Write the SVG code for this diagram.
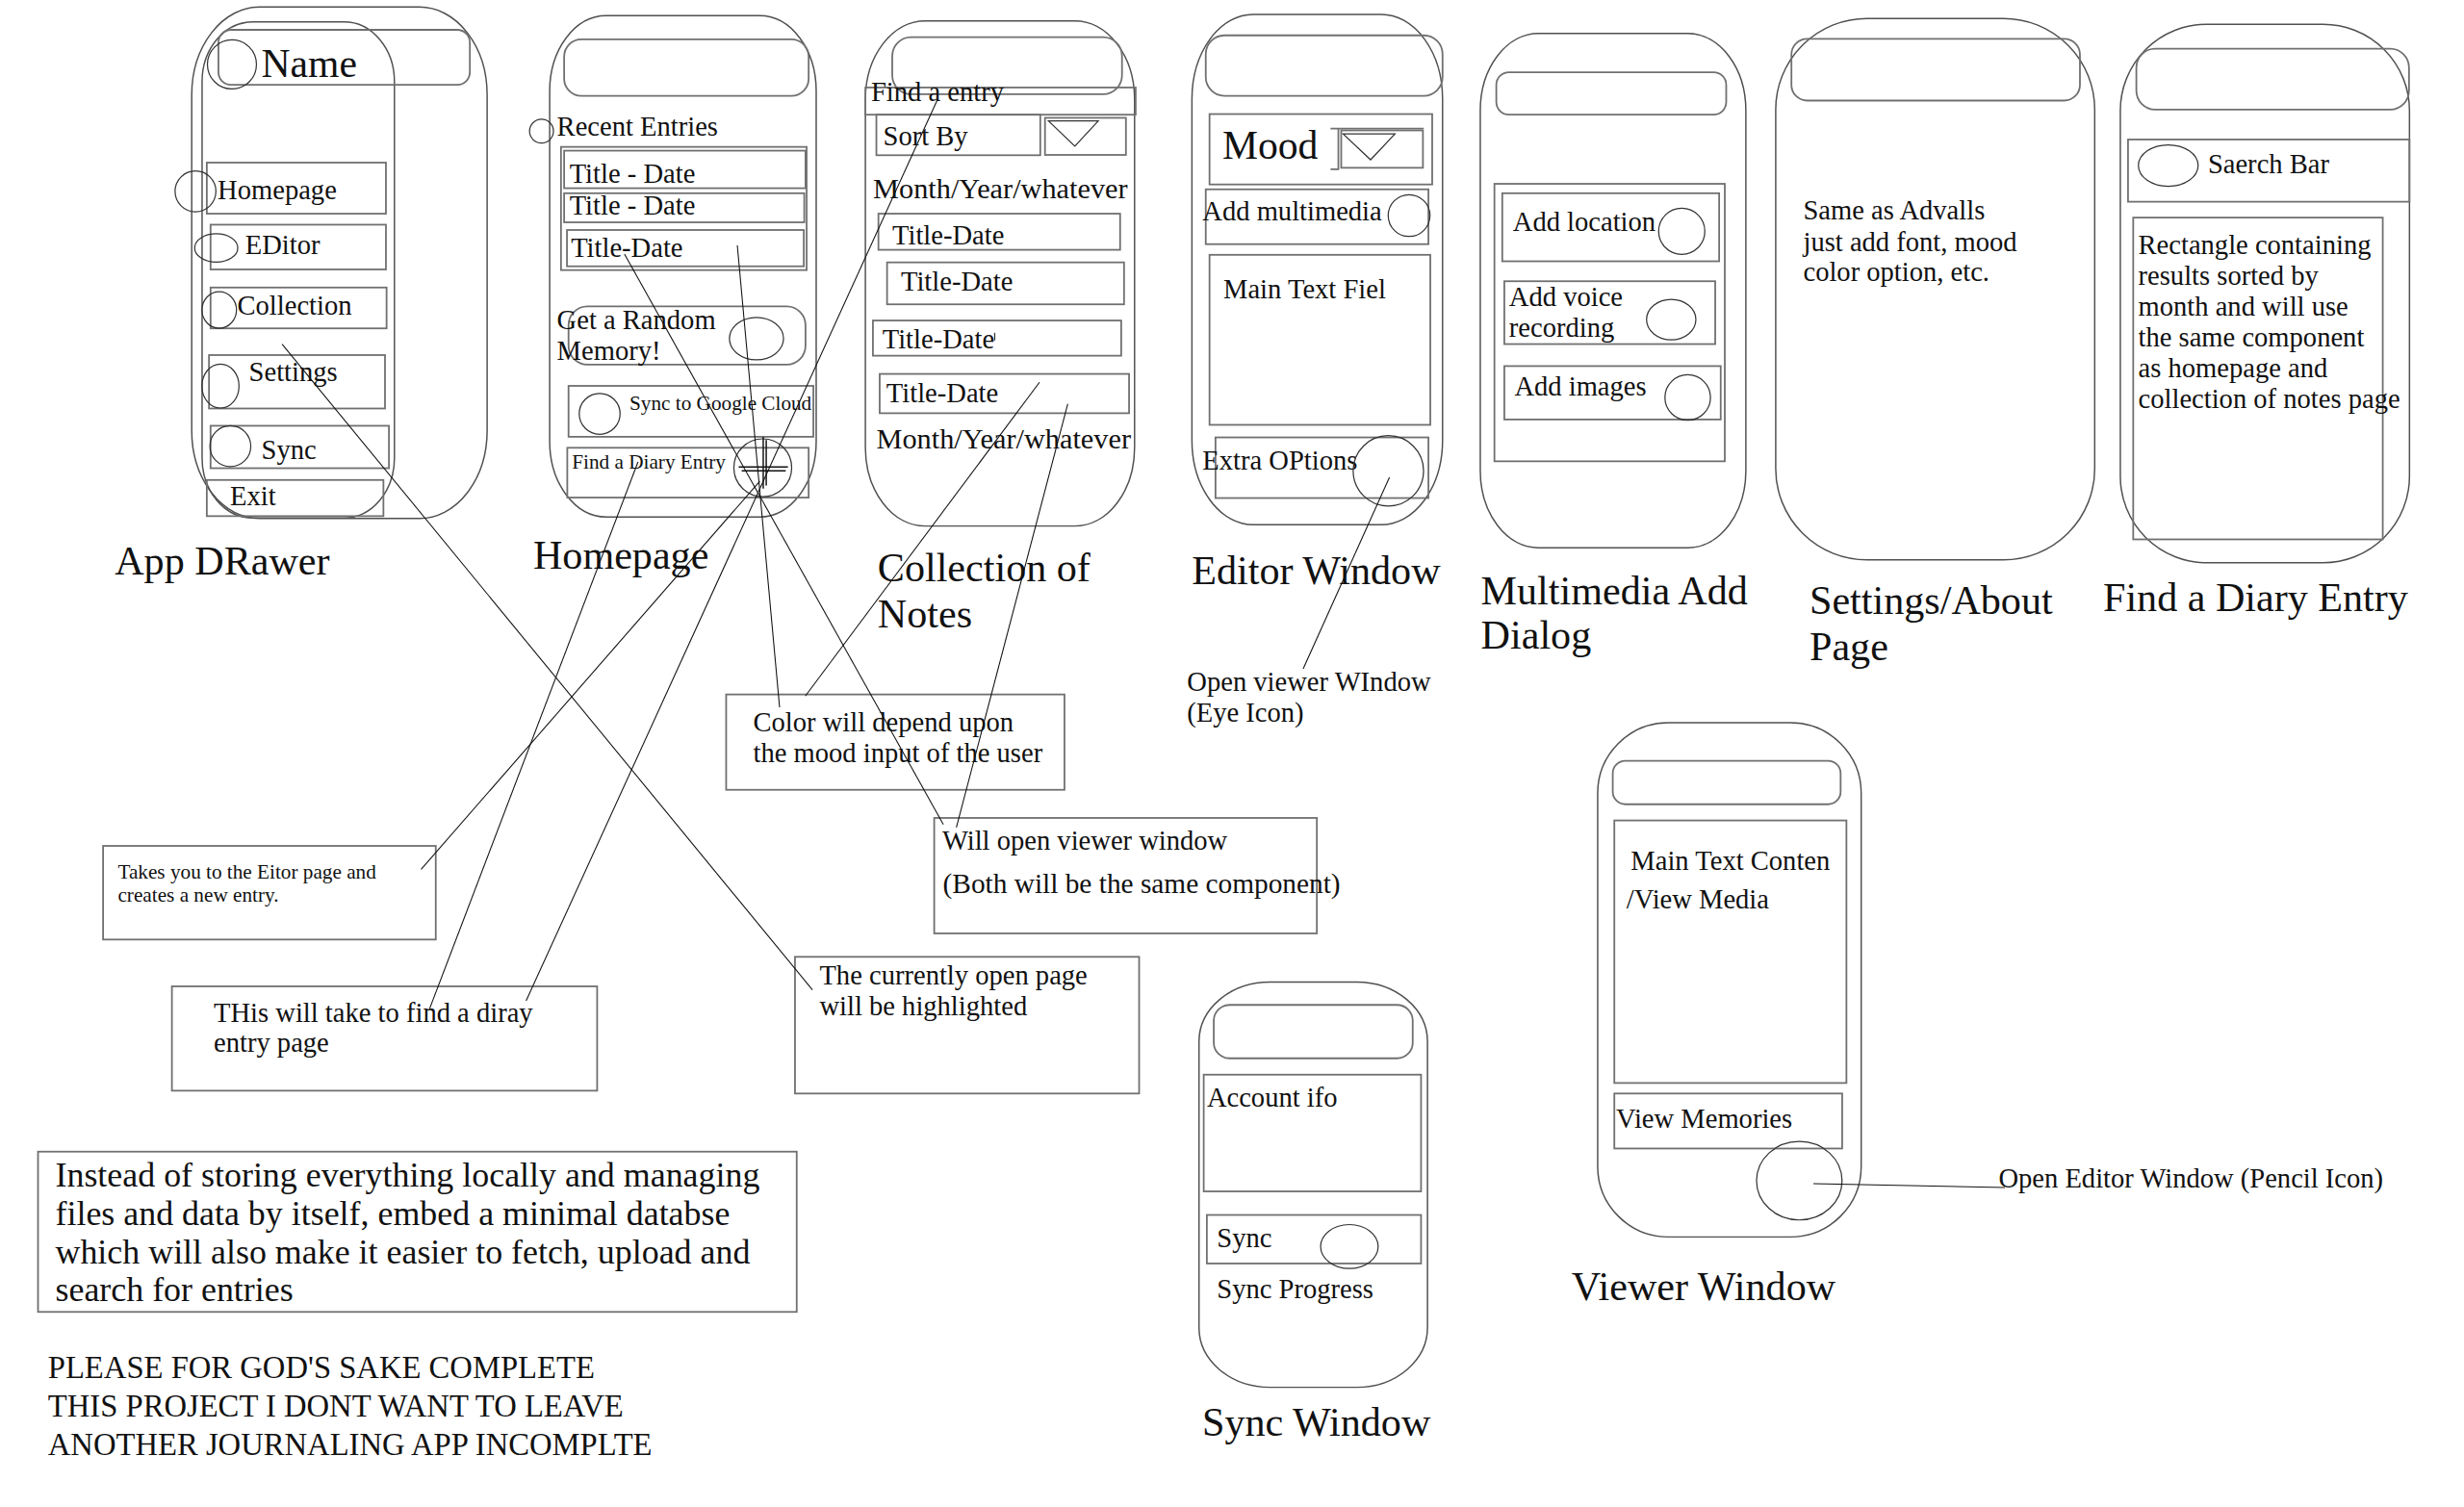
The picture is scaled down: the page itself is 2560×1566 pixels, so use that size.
<svg xmlns="http://www.w3.org/2000/svg" width="2560" height="1566" viewBox="0 0 2560 1566">
<style>
.ph{fill:none;stroke:#505050;stroke-width:0.9}
.bx{fill:none;stroke:#707070;stroke-width:1.1}
.ci{fill:none;stroke:#333;stroke-width:0.75}
.cn{fill:none;stroke:#111;stroke-width:0.65}
text{font-family:"Liberation Serif","DejaVu Serif",serif;fill:#111}
.s13{font-size:13px}
.s17{font-size:17.5px}
.s20{font-size:20px}
.s22{font-size:22px}
.s25{font-size:25.5px}
.tt{font-size:25.8px}
</style>
<rect x="0" y="0" width="2560" height="1566" fill="#fff"/>
<g transform="scale(1.632653)">
<g id="app-drawer">
<rect class="ph" x="122" y="4.5" width="188" height="325.5" rx="43" ry="56"/>
<rect class="ph" x="128.6" y="14" width="122.4" height="315.6" rx="32" ry="38"/>
<rect class="bx" x="139" y="19" width="160" height="35" rx="8"/>
<circle class="ci" cx="147.6" cy="41" r="15.6"/>
<text class="s25" x="166.3" y="49">Name</text>
<rect class="bx" x="131.6" y="103.5" width="114" height="32.5"/>
<circle class="ci" cx="124.4" cy="121.8" r="13"/>
<text class="s17" x="138.5" y="127">Homepage</text>
<rect class="bx" x="134" y="143" width="111.6" height="28.5"/>
<ellipse class="ci" cx="137.6" cy="157.8" rx="13.7" ry="9"/>
<text class="s17" x="156" y="162">EDitor</text>
<rect class="bx" x="134" y="183" width="112" height="26"/>
<ellipse class="ci" cx="139.5" cy="197.3" rx="11" ry="11.6"/>
<text class="s17" x="151" y="200">Collection</text>
<rect class="bx" x="133" y="226" width="112" height="34"/>
<ellipse class="ci" cx="140.3" cy="245.7" rx="11.8" ry="14"/>
<text class="s17" x="158.4" y="242.7">Settings</text>
<rect class="bx" x="134" y="271" width="113.5" height="27"/>
<circle class="ci" cx="146.6" cy="284" r="13"/>
<text class="s17" x="166.3" y="292">Sync</text>
<rect class="bx" x="131.6" y="305.5" width="112.4" height="23"/>
<text class="s17" x="146.4" y="321.5">Exit</text>
<text class="tt" x="73" y="365.6">App DRawer</text>
</g>
<g id="homepage">
<rect class="ph" x="349.8" y="10" width="169.6" height="319" rx="36" ry="48"/>
<rect class="bx" x="359" y="25" width="155.6" height="36" rx="11"/>
<circle class="ci" cx="344.6" cy="83.5" r="7.6"/>
<text class="s17" x="354.4" y="86.4">Recent Entries</text>
<rect class="bx" x="357" y="93.5" width="156.3" height="78.4"/>
<rect class="bx" x="359" y="95.9" width="153.6" height="23.9"/>
<text class="s17" x="362.4" y="116.2">Title - Date</text>
<rect class="bx" x="359" y="123" width="152.8" height="18.5"/>
<text class="s17" x="362.4" y="136.6">Title - Date</text>
<rect class="bx" x="360.8" y="146.4" width="150.7" height="23.1"/>
<text class="s17" x="363.3" y="163.4">Title-Date</text>
<rect class="bx" x="361.8" y="195" width="150.8" height="37" rx="12"/>
<text class="s17" x="354.4" y="209.4">Get a Random</text>
<text class="s17" x="354.4" y="228.8">Memory!</text>
<ellipse class="ci" cx="481.4" cy="215.5" rx="17.2" ry="13.5"/>
<rect class="bx" x="361.8" y="245.6" width="155.8" height="32.4"/>
<circle class="ci" cx="381.6" cy="263.4" r="13"/>
<text class="s13" x="400.6" y="261">Sync to Google Cloud</text>
<rect class="bx" x="361" y="285" width="153.6" height="31.7"/>
<text class="s13" x="364" y="298.3">Find a Diary Entry</text>
<circle class="ci" cx="485.4" cy="297.7" r="18.4"/>
<path fill="none" stroke="#111" stroke-width="0.9" d="M485.7,278V311M487.6,280V309M470.1,297.2H501.4M472,299.7H500"/>
<text class="tt" x="339.3" y="362">Homepage</text>
</g>
<g id="collection">
<rect class="ph" x="550.7" y="13.3" width="171.3" height="321.5" rx="38" ry="50"/>
<rect class="bx" x="567.8" y="23.7" width="146.2" height="36.3" rx="12"/>
<rect class="bx" x="550.7" y="55.7" width="172" height="17.3"/>
<text class="s17" x="554.3" y="64.2">Find a entry</text>
<rect class="bx" x="557.7" y="73" width="104.3" height="25.8"/>
<text class="s17" x="562" y="92.7">Sort By</text>
<rect class="bx" x="665" y="75" width="51.5" height="23.6"/>
<polygon class="ci" points="667.2,77 698.9,77 684,93.1"/>
<text class="s17" x="555.6" y="126.3" textLength="162" lengthAdjust="spacingAndGlyphs">Month/Year/whatever</text>
<rect class="bx" x="559" y="136" width="153.8" height="23"/>
<text class="s17" x="567.8" y="155.6">Title-Date</text>
<rect class="bx" x="564.5" y="167" width="150.8" height="26.7"/>
<text class="s17" x="573.3" y="185.2">Title-Date</text>
<rect class="bx" x="555.5" y="204" width="158" height="22.4"/>
<text class="s17" x="561.5" y="222">Title-Date</text>
<path class="ci" d="M633,211.8V216.7"/>
<rect class="bx" x="559.8" y="238" width="158.7" height="25"/>
<text class="s17" x="564" y="256">Title-Date</text>
<text class="s17" x="557.7" y="285.2" textLength="162" lengthAdjust="spacingAndGlyphs">Month/Year/whatever</text>
<text class="tt" x="558.5" y="370">Collection of</text>
<text class="tt" x="558.5" y="399.5">Notes</text>
</g>
<g id="editor">
<rect class="ph" x="758.5" y="9.2" width="159.5" height="324.8" rx="39" ry="54"/>
<rect class="bx" x="767.3" y="22.5" width="150.7" height="38.5" rx="12"/>
<rect class="bx" x="769.7" y="72.6" width="141.7" height="44.8"/>
<text class="s25" x="777.8" y="101">Mood</text>
<path class="bx" d="M846.7,81.8H906M851.7,81.8V107.7H846.7"/>
<rect class="bx" x="853.5" y="83" width="52" height="23.8"/>
<polygon class="ci" points="854.7,85.2 887.7,85.2 872.2,101.7"/>
<rect class="bx" x="767.3" y="120.5" width="141.7" height="34.9"/>
<text class="s17" x="765.2" y="140">Add multimedia</text>
<circle class="ci" cx="896.7" cy="137.2" r="13.3"/>
<rect class="bx" x="769.7" y="162.2" width="140.5" height="108.2"/>
<text class="s17" x="778.5" y="190">Main Text Fiel</text>
<rect class="bx" x="773.5" y="278.4" width="135.5" height="38.6"/>
<text class="s17" x="765.2" y="299">Extra OPtions</text>
<circle class="ci" cx="883.5" cy="299.7" r="22.4"/>
<text class="tt" x="758.4" y="371.6">Editor Window</text>
</g>
<g id="multimedia">
<rect class="ph" x="942" y="21.3" width="169" height="327.3" rx="37" ry="49"/>
<rect class="bx" x="952.2" y="46" width="146.3" height="27" rx="8"/>
<rect class="bx" x="951" y="117" width="146.6" height="176.6"/>
<rect class="bx" x="956" y="123" width="138" height="43.3"/>
<text class="s17" x="962.7" y="147.2">Add location</text>
<circle class="ci" cx="1070.2" cy="147.2" r="14.7"/>
<rect class="bx" x="957.3" y="179" width="134.2" height="40"/>
<text class="s17" x="960.3" y="194.9">Add voice</text>
<text class="s17" x="960.3" y="214.3">recording</text>
<ellipse class="ci" cx="1063.5" cy="203.4" rx="15.7" ry="12.9"/>
<rect class="bx" x="957.3" y="233" width="137.7" height="34"/>
<text class="s17" x="963.7" y="251.8">Add images</text>
<circle class="ci" cx="1074" cy="253" r="14.5"/>
<text class="tt" x="942.4" y="384.8">Multimedia Add</text>
<text class="tt" x="942.4" y="413">Dialog</text>
</g>
<g id="settings">
<rect class="ph" x="1130" y="11.8" width="203" height="344.5" rx="58" ry="58"/>
<rect class="bx" x="1140" y="24.7" width="183.6" height="39.3" rx="10"/>
<text class="s17" x="1147.5" y="139.6">Same as Advalls</text>
<text class="s17" x="1147.5" y="159.6">just add font, mood</text>
<text class="s17" x="1147.5" y="178.7">color option, etc.</text>
<text class="tt" x="1151.5" y="390.5">Settings/About</text>
<text class="tt" x="1151.5" y="420">Page</text>
</g>
<g id="find-entry">
<rect class="ph" x="1349.3" y="15.4" width="184" height="342.8" rx="55" ry="55"/>
<rect class="bx" x="1359.5" y="31" width="173.5" height="38.7" rx="12"/>
<rect class="bx" x="1354.2" y="88.8" width="179.1" height="39.6"/>
<ellipse class="ci" cx="1379.8" cy="105.4" rx="19" ry="13.2"/>
<text class="s17" x="1405" y="110.4">Saerch Bar</text>
<rect class="bx" x="1357.5" y="138.5" width="158.8" height="204.8"/>
<text class="s17" x="1360.7" y="161.5">Rectangle containing</text>
<text class="s17" x="1360.7" y="181.2">results sorted by</text>
<text class="s17" x="1360.7" y="200.9">month and will use</text>
<text class="s17" x="1360.7" y="220.5">the same component</text>
<text class="s17" x="1360.7" y="240.2">as homepage and</text>
<text class="s17" x="1360.7" y="259.9">collection of notes page</text>
<text class="tt" x="1338.3" y="389">Find a Diary Entry</text>
</g>
<g id="viewer">
<rect class="ph" x="1016.7" y="460" width="167.7" height="327.3" rx="45" ry="45"/>
<rect class="bx" x="1026.3" y="484.2" width="145" height="27.7" rx="8"/>
<rect class="bx" x="1027.3" y="522.2" width="147.7" height="167.1"/>
<text class="s17" x="1037.8" y="553.7">Main Text Conten</text>
<text class="s17" x="1035" y="578">/View Media</text>
<rect class="bx" x="1027.3" y="696" width="145" height="35"/>
<text class="s17" x="1028.4" y="717.8">View Memories</text>
<ellipse class="ci" cx="1145" cy="751.5" rx="27.2" ry="25"/>
<text class="tt" x="1000" y="827.3">Viewer Window</text>
</g>
<g id="sync-window">
<rect class="ph" x="763" y="625" width="145.4" height="258" rx="45" ry="38"/>
<rect class="bx" x="772.4" y="639.6" width="126.6" height="34" rx="10"/>
<rect class="bx" x="766" y="684" width="138.3" height="74.3"/>
<text class="s17" x="768" y="704.5">Account ifo</text>
<rect class="bx" x="768" y="773.3" width="136.3" height="30.9"/>
<text class="s17" x="774.4" y="794">Sync</text>
<ellipse class="ci" cx="858.7" cy="793.4" rx="18.3" ry="14"/>
<text class="s17" x="774.4" y="826">Sync Progress</text>
<text class="tt" x="765" y="914">Sync Window</text>
</g>
<g id="note-color">
<rect class="bx" x="462.1" y="442" width="215.3" height="60.7"/>
<text class="s17" x="479.3" y="465.5">Color will depend upon</text>
<text class="s17" x="479.3" y="484.9">the mood input of the user</text>
</g>
<g id="note-editor">
<rect class="bx" x="65.6" y="538.4" width="211.7" height="59.6"/>
<text class="s13" x="75" y="559.4">Takes you to the Eitor page and</text>
<text class="s13" x="75" y="573.7">creates a new entry.</text>
</g>
<g id="note-find">
<rect class="bx" x="109.4" y="627.8" width="270.6" height="66.4"/>
<text class="s17" x="136" y="650.3">THis will take to find a diray</text>
<text class="s17" x="136" y="669.6">entry page</text>
</g>
<g id="note-highlight">
<rect class="bx" x="505.9" y="609" width="219" height="87"/>
<text class="s17" x="521.5" y="626.8">The currently open page</text>
<text class="s17" x="521.5" y="646.2">will be highlighted</text>
</g>
<g id="note-viewer">
<rect class="bx" x="594.5" y="520.6" width="243.5" height="73.5"/>
<text class="s17" x="599.6" y="541">Will open viewer window</text>
<text class="s17" x="600" y="568.6" textLength="253" lengthAdjust="spacingAndGlyphs">(Both will be the same component)</text>
</g>
<g id="note-eye">
<text class="s17" x="755.4" y="440">Open viewer WIndow</text>
<text class="s17" x="755.4" y="459.4">(Eye Icon)</text>
</g>
<g id="note-pencil">
<text class="s17" x="1271.8" y="755.8">Open Editor Window (Pencil Icon)</text>
</g>
<g id="note-database">
<rect class="bx" x="24.2" y="733" width="482.8" height="102"/>
<text class="s22" x="35.2" y="755.4">Instead of storing everything locally and managing</text>
<text class="s22" x="35.2" y="780">files and data by itself, embed a minimal databse</text>
<text class="s22" x="35.2" y="804.4">which will also make it easier to fetch, upload and</text>
<text class="s22" x="35.2" y="827.9">search for entries</text>
</g>
<g id="note-please">
<text class="s20" x="30.5" y="877">PLEASE FOR GOD'S SAKE COMPLETE</text>
<text class="s20" x="30.5" y="901.4">THIS PROJECT I DONT WANT TO LEAVE</text>
<text class="s20" x="30.5" y="926">ANOTHER JOURNALING APP INCOMPLTE</text>
</g>
<g id="connectors">
<line class="cn" x1="179.5" y1="219" x2="517" y2="630"/>
<line class="cn" x1="397.4" y1="161.7" x2="600.3" y2="524.7"/>
<line class="cn" x1="469.2" y1="156.2" x2="496.1" y2="450.2"/>
<line class="cn" x1="483.5" y1="306.3" x2="268" y2="553.3"/>
<line class="cn" x1="406" y1="294" x2="273.4" y2="642"/>
<line class="cn" x1="596.5" y1="63.5" x2="334.8" y2="637"/>
<line class="cn" x1="661.5" y1="243.3" x2="512.5" y2="443"/>
<line class="cn" x1="679.5" y1="257" x2="608.6" y2="526.7"/>
<line class="cn" x1="884.2" y1="303.8" x2="829.3" y2="425.7"/>
<line class="cn" x1="1154" y1="753.4" x2="1275.8" y2="755.8"/>
</g>
</g>
</svg>
